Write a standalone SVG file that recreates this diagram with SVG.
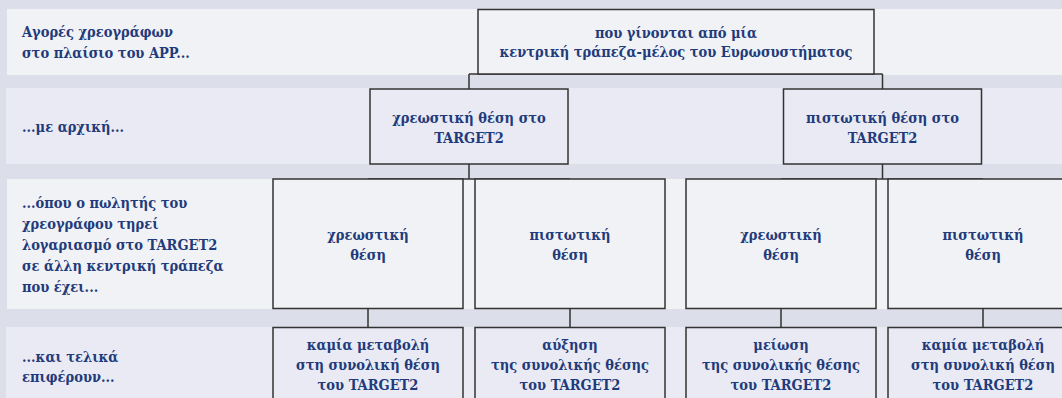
<svg xmlns="http://www.w3.org/2000/svg" width="1062" height="398" viewBox="0 0 1062 398">
<style>
.bg{fill:#dcdee9}
.bandA{fill:#f1f2f5}
.bandB{fill:#e9eaf3}
.box{stroke:#333333;stroke-width:1.5}
.boxA{fill:#f1f2f5}
.boxB{fill:#e9eaf3}
text{font-family:"DejaVu Serif",serif;font-stretch:condensed;font-weight:bold;font-size:14.5px;fill:#1f3b7b}
.c{text-anchor:middle}
.conn{stroke:#333333;stroke-width:1.5;fill:none}
</style>
<rect class="bg" x="0" y="0" width="1062" height="398"/>
<g id="bands">
<rect class="bandA" x="7" y="9" width="1055" height="66"/>
<rect class="bandB" x="6" y="88" width="1056" height="76"/>
<rect class="bandA" x="7" y="179" width="1055" height="130"/>
<rect class="bandB" x="6" y="327" width="1056" height="71"/>
</g>
<g id="labels">
<text x="22" y="37">Αγορές χρεογράφων</text>
<text x="22" y="57.5">στο πλαίσιο του APP...</text>
<text x="22" y="131.5">...με αρχική...</text>
<text x="22" y="208">...όπου ο πωλητής του</text>
<text x="22" y="229">χρεογράφου τηρεί</text>
<text x="22" y="250">λογαριασμό στο TARGET2</text>
<text x="22" y="271">σε άλλη κεντρική τράπεζα</text>
<text x="22" y="292">που έχει...</text>
<text x="22" y="361.5">...και τελικά</text>
<text x="22" y="381.5">επιφέρουν...</text>
</g>
<g id="connectors">
<path class="conn" d="M469 74H882.5M469 74V89M882.5 74V89"/>
<path class="conn" d="M469 164V179M368 179H570"/>
<path class="conn" d="M882.5 164V179M781 179H983"/>
<path class="conn" d="M368 308.5V327.5M570 308.5V327.5M781 308.5V327.5M983 308.5V327.5"/>
</g>
<g id="n-root">
<rect class="box boxA" x="478" y="9.5" width="396" height="64.5"/>
<text class="c" x="676" y="37.5">που γίνονται από μία</text>
<text class="c" x="676" y="57">κεντρική τράπεζα-μέλος του Ευρωσυστήματος</text>
</g>
<g id="n-debit2">
<rect class="box boxB" x="370" y="89" width="198" height="75"/>
<text class="c" x="469" y="123">χρεωστική θέση στο</text>
<text class="c" x="469" y="142.5">TARGET2</text>
</g>
<g id="n-credit2">
<rect class="box boxB" x="783.5" y="89" width="198" height="75"/>
<text class="c" x="882.5" y="123">πιστωτική θέση στο</text>
<text class="c" x="882.5" y="142.5">TARGET2</text>
</g>
<g id="n-r3-1">
<rect class="box boxA" x="273" y="179" width="190" height="129.5"/>
<text class="c" x="368" y="240">χρεωστική</text>
<text class="c" x="368" y="259.5">θέση</text>
</g>
<g id="n-r3-2">
<rect class="box boxA" x="475" y="179" width="190" height="129.5"/>
<text class="c" x="570" y="240">πιστωτική</text>
<text class="c" x="570" y="259.5">θέση</text>
</g>
<g id="n-r3-3">
<rect class="box boxA" x="686" y="179" width="190" height="129.5"/>
<text class="c" x="781" y="240">χρεωστική</text>
<text class="c" x="781" y="259.5">θέση</text>
</g>
<g id="n-r3-4">
<rect class="box boxA" x="888" y="179" width="190" height="129.5"/>
<text class="c" x="983" y="240">πιστωτική</text>
<text class="c" x="983" y="259.5">θέση</text>
</g>
<g id="n-r4-1">
<rect class="box boxB" x="273" y="327.5" width="190" height="80"/>
<text class="c" x="368" y="350">καμία μεταβολή</text>
<text class="c" x="368" y="370">στη συνολική θέση</text>
<text class="c" x="368" y="390">του TARGET2</text>
</g>
<g id="n-r4-2">
<rect class="box boxB" x="475" y="327.5" width="190" height="80"/>
<text class="c" x="570" y="350">αύξηση</text>
<text class="c" x="570" y="370">της συνολικής θέσης</text>
<text class="c" x="570" y="390">του TARGET2</text>
</g>
<g id="n-r4-3">
<rect class="box boxB" x="686" y="327.5" width="190" height="80"/>
<text class="c" x="781" y="350">μείωση</text>
<text class="c" x="781" y="370">της συνολικής θέσης</text>
<text class="c" x="781" y="390">του TARGET2</text>
</g>
<g id="n-r4-4">
<rect class="box boxB" x="888" y="327.5" width="190" height="80"/>
<text class="c" x="983" y="350">καμία μεταβολή</text>
<text class="c" x="983" y="370">στη συνολική θέση</text>
<text class="c" x="983" y="390">του TARGET2</text>
</g>
</svg>
